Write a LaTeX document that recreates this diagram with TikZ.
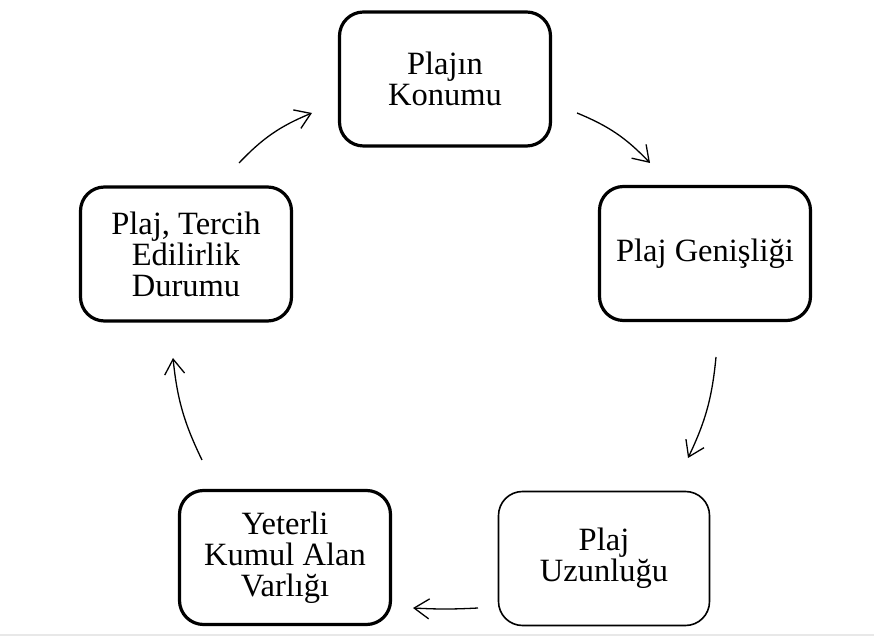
\documentclass[tikz,border=0pt]{standalone}
\usepackage{fontspec}
\setmainfont{Liberation Serif}
\usetikzlibrary{arrows.meta}
\begin{document}
\begin{tikzpicture}[x=1pt,y=1pt,
  box/.style={draw=black, line width=3.2pt, rounded corners=24pt,
    minimum width=211pt, minimum height=134pt, align=center,
    font=\fontsize{32.5}{31}\selectfont, inner sep=2pt},
  thinbox/.style={box, line width=1.6pt},
  conn/.style={line width=1.3pt, -{Straight Barb[length=15pt,width=20pt,line width=1.3pt]}}
]
\useasboundingbox (0,0) rectangle (874,639);
\fill[white] (0,0) rectangle (874,639);
\draw[gray!18, line width=2pt] (0,4) -- (874,4);

\node[box] (b1) at (445,560) {Plajın\\Konumu};
\node[box] (b2) at (705,385.5) {Plaj Genişliği};
\node[thinbox] (b3) at (604,80.5) {Plaj\\Uzunluğu};
\node[box] (b4) at (285,81.5) {Yeterli\\Kumul Alan\\Varlığı};
\node[box] (b5) at (186,385) {Plaj, Tercih\\Edilirlik\\Durumu};

\coordinate (a1s) at (239,476); \coordinate (a1e) at (312,526);
\coordinate (a2s) at (577,526); \coordinate (a2e) at (650,476);
\coordinate (a3s) at (716,282); \coordinate (a3e) at (688,181);
\coordinate (a4s) at (478,31);  \coordinate (a4e) at (413,31);
\coordinate (a5s) at (202,179); \coordinate (a5e) at (173,281);

\draw[conn] (a1s) to[bend left=12] (a1e);
\draw[conn] (a2s) to[bend left=12] (a2e);
\draw[conn] (a3s) to[bend left=10] (a3e);
\draw[conn] (a4s) to[bend left=3] (a4e);
\draw[conn] (a5s) to[bend left=10] (a5e);
\end{tikzpicture}
\end{document}
